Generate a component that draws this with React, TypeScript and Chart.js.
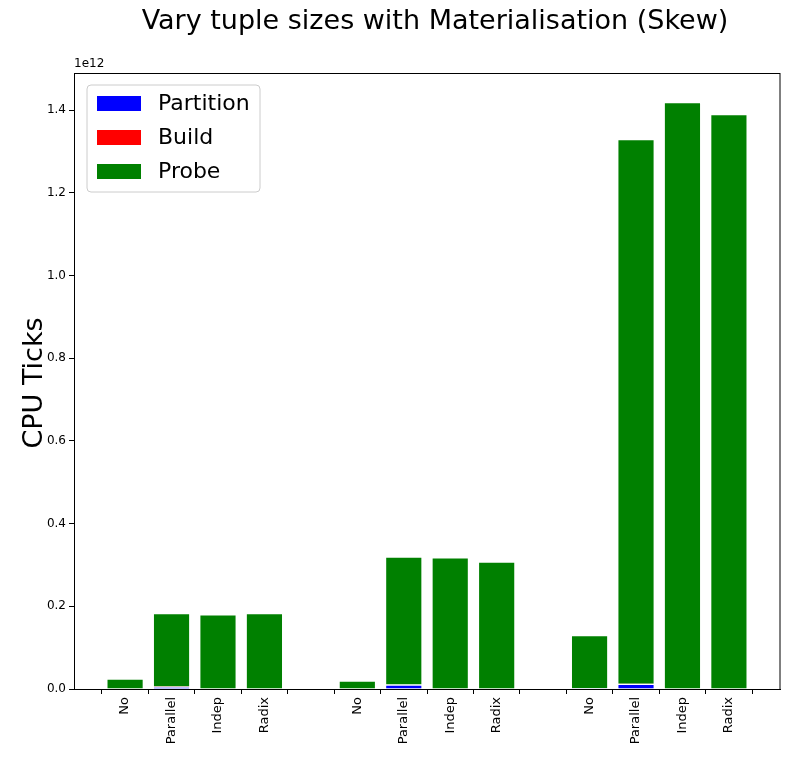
import React, { useEffect, useRef } from 'react';
import { Chart, registerables } from 'chart.js';

Chart.register(...registerables);

const categories = ['No', 'Parallel', 'Indep', 'Radix', '', 'No', 'Parallel', 'Indep', 'Radix', '', 'No', 'Parallel', 'Indep', 'Radix'];
const partition = [0.001, 0.005, 0.001, 0.001, 0, 0.001, 0.01, 0.001, 0.001, 0, 0.002, 0.012, 0.001, 0.001];
const build = [0, 0.001, 0, 0, 0, 0, 0.001, 0, 0, 0, 0, 0.001, 0, 0];
const probe = [0.024, 0.177, 0.179, 0.182, 0, 0.019, 0.309, 0.317, 0.307, 0, 0.128, 1.317, 1.418, 1.389];
const yTicks = [0, 0.2, 0.4, 0.6, 0.8, 1.0, 1.2, 1.4];

const FONT = 'DejaVu Sans';

const toPoints = (vals: number[]) =>
  vals.map((v, i) => ({ x: i, y: categories[i] === '' ? null : v }));

const overlay = {
  id: 'overlay',
  afterDraw(chart: any) {
    const { ctx, chartArea } = chart;
    ctx.save();
    ctx.strokeStyle = '#000';
    ctx.lineWidth = 1;
    ctx.strokeRect(chartArea.left + 0.5, chartArea.top + 0.5, chartArea.right - chartArea.left - 0.5, chartArea.bottom - chartArea.top);
    ctx.fillStyle = '#000';
    ctx.font = `27px ${FONT}`;
    ctx.textAlign = 'center';
    ctx.textBaseline = 'middle';
    ctx.fillText('Vary tuple sizes with Materialisation (Skew)', 435, 22);
    ctx.save();
    ctx.translate(35, (chartArea.top + chartArea.bottom) / 2 + 2);
    ctx.rotate(-Math.PI / 2);
    ctx.fillText('CPU Ticks', 0, 0);
    ctx.restore();
    ctx.font = `12px ${FONT}`;
    ctx.textAlign = 'left';
    ctx.fillText('1e12', chartArea.left, chartArea.top - 9);
    // legend
    const lx = chartArea.left + 13, ly = chartArea.top + 12;
    ctx.fillStyle = 'rgba(255,255,255,0.85)';
    ctx.strokeStyle = '#ccc';
    ctx.beginPath();
    ctx.roundRect(lx, ly, 173, 107, 4);
    ctx.fill();
    ctx.stroke();
    const items = [['Partition', 'blue'], ['Build', 'red'], ['Probe', 'green']];
    ctx.font = `22px ${FONT}`;
    items.forEach(([t, c], k) => {
      const y = ly + 18 + k * 34;
      ctx.fillStyle = c;
      ctx.fillRect(lx + 10, y - 7, 44, 15);
      ctx.fillStyle = '#000';
      ctx.fillText(t, lx + 71, y + 1);
    });
    ctx.restore();
  },
};

const App: React.FC = () => {
  const canvasRef = useRef<HTMLCanvasElement>(null);
  useEffect(() => {
    document.body.style.margin = '0';
    const mk = (label: string, data: number[], color: string) => ({
      label,
      data: toPoints(data),
      backgroundColor: color,
      borderColor: '#fff',
      borderWidth: 1,
      barPercentage: 0.8,
      categoryPercentage: 1,
    });
    const chart = new Chart(canvasRef.current!, {
      type: 'bar',
      data: {
        datasets: [mk('Partition', partition, 'blue'), mk('Build', build, 'red'), mk('Probe', probe, 'green')],
      },
      options: {
        animation: false,
        responsive: false,
        layout: { padding: { top: 73, right: 13, left: 0, bottom: 0 } },
        plugins: { legend: { display: false }, tooltip: { enabled: false }, title: { display: false } },
        scales: {
          x: {
            type: 'linear',
            stacked: true,
            offset: false,
            min: -1.1,
            max: 14.1,
            grid: { drawOnChartArea: false, drawTicks: true, tickLength: 5, color: '#000' },
            border: { color: '#000' },
            afterBuildTicks: (s: any) => { s.ticks = categories.map((_, i) => ({ value: i })); },
            afterFit: (s: any) => { s.height = 71; },
            ticks: {
              autoSkip: false,
              maxRotation: 90,
              minRotation: 90,
              color: '#000',
              font: { family: FONT, size: 13 },
              callback: (v: any) => categories[v] ?? '',
            },
          },
          y: {
            stacked: true,
            min: 0,
            max: 1.49,
            grid: { drawOnChartArea: false, drawTicks: true, tickLength: 5, color: '#000' },
            border: { color: '#000' },
            afterBuildTicks: (s: any) => { s.ticks = yTicks.map((v) => ({ value: v })); },
            afterFit: (s: any) => { s.width = 74; },
            ticks: { color: '#000', font: { family: FONT, size: 12 }, callback: (v: any) => Number(v).toFixed(1) },
          },
        },
      },
      plugins: [overlay],
    });
    return () => chart.destroy();
  }, []);
  return <canvas ref={canvasRef} width={793} height={760} />;
};

export default App;
